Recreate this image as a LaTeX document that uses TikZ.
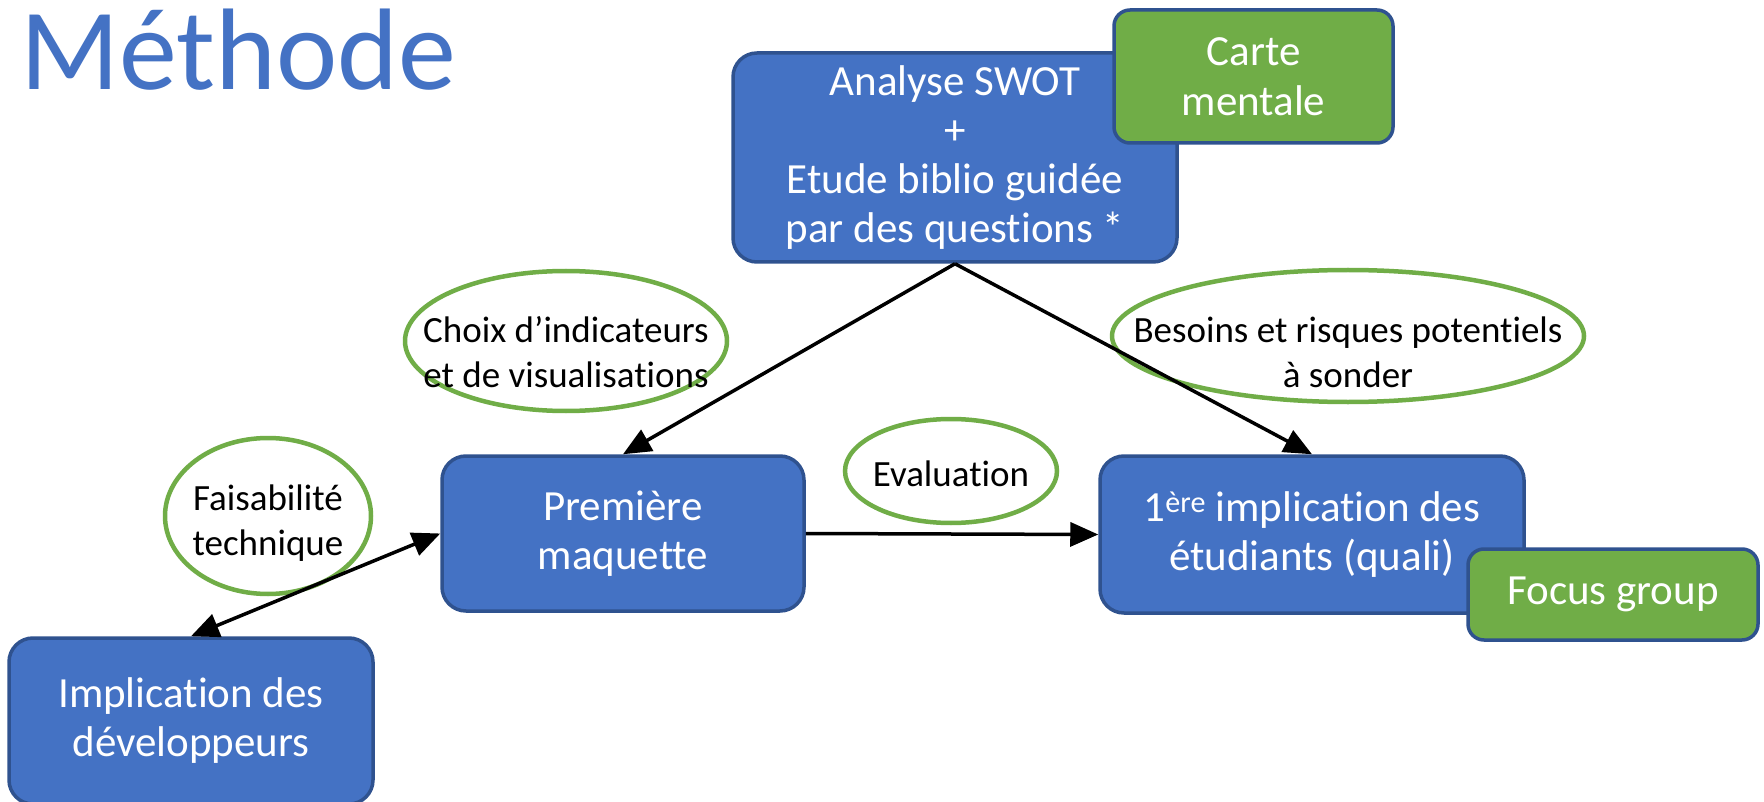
\documentclass[tikz,border=0pt]{standalone}
\usepackage{fontspec}
\setmainfont{Carlito}[Ligatures={NoCommon}]
\usetikzlibrary{shapes.geometric,arrows.meta}
\definecolor{boxblue}{HTML}{4472C4}
\definecolor{boxborder}{HTML}{2F528F}
\definecolor{boxgreen}{HTML}{70AD47}
\begin{document}
\begin{tikzpicture}[x=1pt,y=-1pt,
  bluebox/.style={rectangle, rounded corners=24pt, fill=boxblue, draw=boxborder, line width=3.5pt,
    text=white, align=center, inner sep=0pt, font=\fontsize{43}{49}\selectfont},
  greenbox/.style={rectangle, rounded corners=16pt, fill=boxgreen, draw=boxborder, line width=3.5pt,
    text=white, align=center, inner sep=0pt, font=\fontsize{43}{50}\selectfont},
  oval/.style={ellipse, draw=boxgreen, line width=4.5pt, inner sep=0pt},
  ovaltext/.style={align=center, text=black, inner sep=0pt, font=\fontsize{37}{45}\selectfont},
  conn/.style={line width=3.5pt, draw=black, -{Triangle[length=28pt,width=24pt]}},
  dconn/.style={line width=3.5pt, draw=black, {Triangle[length=28pt,width=24pt]}-{Triangle[length=28pt,width=24pt]}}
]
\useasboundingbox (0,0) rectangle (1764,802);
\fill[white] (0,0) rectangle (1764,802);

\node[anchor=base west, text=boxblue, inner sep=0pt, font=\fontsize{116}{120}\selectfont] (title) at (20,90) {Méthode};

% ellipses
\node[oval, minimum width=322pt, minimum height=140pt,
  label={[ovaltext, yshift=-11pt]center:Choix d’indicateurs\\et de visualisations}] (choix) at (566,341) {};
\node[oval, minimum width=472pt, minimum height=132pt,
  label={[ovaltext, yshift=-16pt]center:Besoins et risques potentiels\\à sonder}] (besoins) at (1348,336) {};
\node[oval, minimum width=212pt, minimum height=104pt,
  label={[ovaltext, yshift=-3pt]center:Evaluation}] (eval) at (951,471) {};
\node[oval, minimum width=206pt, minimum height=156pt,
  label={[ovaltext, yshift=-7pt]center:Faisabilité\\technique}] (faisab) at (268,516) {};

% boxes
\node[bluebox, minimum width=444pt, minimum height=209pt] (swot) at (955,157.5) {Analyse SWOT\\+\\Etude biblio guidée\\par des questions *};
\node[greenbox, minimum width=279pt, minimum height=133pt] (carte) at (1253.5,76.5) {Carte\\mentale};
\node[bluebox, minimum width=362pt, minimum height=155pt] (maquette) at (623,533.5) {Première\\maquette};
\node[bluebox, minimum width=424pt, minimum height=157pt] (etud) at (1312,534.5) {1\textsuperscript{ère} implication des\\étudiants (quali)};
\node[greenbox, minimum width=290pt, minimum height=91pt] (focus) at (1613,594.5) {Focus group};
\node[bluebox, minimum width=364pt, minimum height=166pt] (dev) at (191,721) {Implication des\\développeurs};

% connectors
\draw[conn] (swot.south) -- (maquette.north);
\draw[conn] (swot.south) -- (etud.north);
\draw[conn] (maquette.east) -- (etud.west);
\draw[dconn] (dev.north) -- (maquette.west);
\end{tikzpicture}
\end{document}
